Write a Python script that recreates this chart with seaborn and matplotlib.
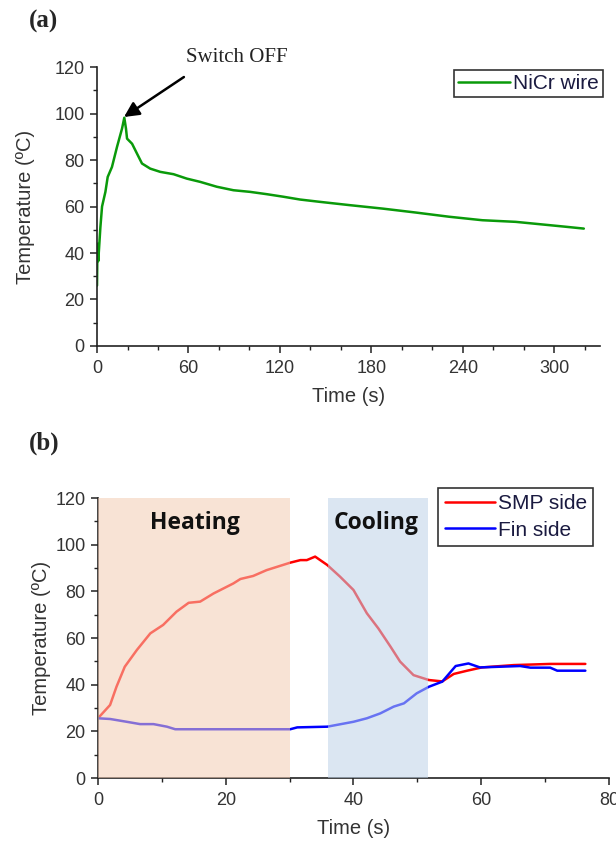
import matplotlib
matplotlib.use("Agg")
import matplotlib.pyplot as plt
from matplotlib.ticker import MultipleLocator
import seaborn as sns
import pandas as pd

# ---------------- data ----------------
# Panel (a): NiCr wire
time_a = [0, 0.3, 0.8, 2.2, 3.3, 5.5, 7.0, 9.8, 13.1, 16.4, 17.9, 19.0, 19.7, 23.0,
          26.2, 29.5, 34.9, 41.5, 50.2, 58.9, 67.7, 78.6, 89.5, 100.4, 111.4, 122.3,
          133.2, 146.3, 165.6, 187.4, 209.2, 231.0, 252.8, 274.7, 296.5, 307.4, 319.4]
temp_a = [26.0, 44.0, 36.5, 51.0, 60.0, 66.3, 72.7, 77.0, 85.6, 93.5, 98.2, 93.5, 89.2, 87.0,
          82.8, 78.5, 76.3, 74.9, 73.9, 72.0, 70.6, 68.5, 67.0, 66.3, 65.3, 64.2,
          63.0, 62.0, 60.6, 59.1, 57.4, 55.6, 54.1, 53.4, 52.0, 51.3, 50.5]

# Panel (b): SMP side and Fin side
time_smp = [0, 1.9, 2.9, 4.2, 6.1, 8.2, 10.2, 12.3, 14.2, 16.0, 18.1, 21.2, 22.3, 24.3,
            26.4, 30.1, 31.7, 32.7, 34.0, 35.9, 37.9, 40.0, 42.1, 43.9, 45.8, 47.3,
            49.4, 51.8, 53.9, 55.7, 57.8, 60.1, 65.1, 70.8, 76.3]
temp_smp = [25.6, 31.3, 39.1, 47.7, 54.9, 62.0, 65.6, 71.3, 75.1, 75.6, 79.1, 83.4, 85.3, 86.6,
            89.1, 92.3, 93.4, 93.4, 94.9, 91.3, 86.3, 80.6, 70.6, 64.1, 56.3, 49.9,
            44.1, 42.0, 41.4, 44.6, 46.0, 47.4, 48.4, 48.9, 48.9]
time_fin = [0, 1.9, 4.5, 6.6, 8.7, 10.8, 12.1, 30.1, 31.2, 35.9, 40.0, 42.1, 44.2, 46.3,
            47.9, 49.9, 51.8, 53.9, 56.0, 58.0, 59.8, 66.1, 67.7, 70.8, 71.9, 76.3]
temp_fin = [25.6, 25.3, 24.1, 23.1, 23.1, 22.0, 20.9, 20.9, 21.7, 22.0, 24.1, 25.6, 27.7, 30.6,
            32.0, 36.3, 39.1, 41.3, 48.0, 49.1, 47.4, 48.0, 47.3, 47.3, 46.0, 46.0]

heating_span = [0, 30]
cooling_span = [36, 51.7]

# ---------------- style ----------------
sns.set_style("ticks")
plt.rcParams['font.family'] = ['Liberation Sans', 'DejaVu Sans']
plt.rcParams['axes.edgecolor'] = '#222222'
plt.rcParams['xtick.color'] = '#222222'
plt.rcParams['ytick.color'] = '#222222'
plt.rcParams['xtick.labelcolor'] = '#333333'
plt.rcParams['ytick.labelcolor'] = '#333333'

fig = plt.figure(figsize=(6.16, 8.41), dpi=100)
ax1 = fig.add_axes([0.1575, 0.5886, 0.9740 - 0.1575, 0.9203 - 0.5886])
ax2 = fig.add_axes([0.1590, 0.0749, 0.9886 - 0.1590, 0.4078 - 0.0749])

def style_axis(ax):
    sns.despine(ax=ax)
    for s in ['left', 'bottom']:
        ax.spines[s].set_linewidth(1.2)
    ax.tick_params(which='major', direction='out', length=5, width=1.1, labelsize=13)
    ax.tick_params(which='minor', direction='out', length=3, width=1.0)
    ax.tick_params(axis='x', which='major', pad=5)
    ax.tick_params(axis='y', which='major', pad=4)

# ---------------- panel (a) ----------------
df_a = pd.DataFrame({'Time (s)': time_a, 'Temp': temp_a})
sns.lineplot(data=df_a, x='Time (s)', y='Temp', ax=ax1, color='#0a9a0a', lw=1.8,
             sort=False, estimator=None, label='NiCr wire')
ax1.set_xlim(0, 330)
ax1.set_ylim(0, 120)
ax1.xaxis.set_major_locator(MultipleLocator(60))
ax1.xaxis.set_minor_locator(MultipleLocator(20))
ax1.yaxis.set_major_locator(MultipleLocator(20))
ax1.yaxis.set_minor_locator(MultipleLocator(10))
style_axis(ax1)
ax1.set_xlabel('Time (s)', fontsize=14.5, color='#333333', labelpad=7)
ax1.set_ylabel('Temperature (ºC)', fontsize=14.5, color='#333333', labelpad=14)
leg1 = ax1.legend(loc='upper right', bbox_to_anchor=(1.006, 0.99), borderaxespad=0,
                  fontsize=15, frameon=True, fancybox=False, handlelength=2.5,
                  handletextpad=0.15, borderpad=0.2)
leg1.get_frame().set_edgecolor('black')
leg1.get_frame().set_linewidth(1.2)
for t in leg1.get_texts():
    t.set_color('#1a1a40')

ax1.annotate('', xy=(17.7, 98.5), xytext=(57, 115.7), annotation_clip=False,
             arrowprops=dict(arrowstyle='-|>,head_length=0.9,head_width=0.45',
                             lw=1.8, color='black', shrinkA=0, shrinkB=0))
ax1.text(58.5, 124.0, 'Switch OFF', fontsize=15, family='Liberation Serif',
         va='center', ha='left', color='#222222')

# ---------------- panel (b) ----------------
df_smp = pd.DataFrame({'Time (s)': time_smp, 'Temp': temp_smp})
df_fin = pd.DataFrame({'Time (s)': time_fin, 'Temp': temp_fin})
sns.lineplot(data=df_smp, x='Time (s)', y='Temp', ax=ax2, color='#ff0000', lw=1.8,
             sort=False, estimator=None, label='SMP side', zorder=2)
sns.lineplot(data=df_fin, x='Time (s)', y='Temp', ax=ax2, color='#0000ff', lw=1.8,
             sort=False, estimator=None, label='Fin side', zorder=2)
ax2.axvspan(heating_span[0], heating_span[1], ymin=0, ymax=1, color=(244/255, 204/255, 180/255),
            alpha=0.55, lw=0, zorder=3)
ax2.axvspan(cooling_span[0], cooling_span[1], ymin=0, ymax=1, color=(191/255, 211/255, 233/255),
            alpha=0.55, lw=0, zorder=3)
ax2.text(15.2, 109.3, 'Heating', fontsize=16.5, fontweight='bold', family='Open Sans',
         ha='center', va='center', color='#111111', zorder=4)
ax2.text(43.6, 109.3, 'Cooling', fontsize=16.5, fontweight='bold', family='Open Sans',
         ha='center', va='center', color='#111111', zorder=4)
ax2.set_xlim(0, 80)
ax2.set_ylim(0, 120)
ax2.xaxis.set_major_locator(MultipleLocator(20))
ax2.xaxis.set_minor_locator(MultipleLocator(10))
ax2.yaxis.set_major_locator(MultipleLocator(20))
ax2.yaxis.set_minor_locator(MultipleLocator(10))
style_axis(ax2)
ax2.set_xlabel('Time (s)', fontsize=14.5, color='#333333', labelpad=7)
ax2.set_ylabel('Temperature (ºC)', fontsize=14.5, color='#333333', labelpad=3)
leg2 = ax2.legend(loc='upper right', bbox_to_anchor=(0.969, 1.036), borderaxespad=0,
                  fontsize=15, frameon=True, fancybox=False, handlelength=2.4,
                  handletextpad=0.15, borderpad=0.3, labelspacing=0.35)
leg2.get_frame().set_edgecolor('black')
leg2.get_frame().set_linewidth(1.2)
leg2.set_zorder(5)
for t in leg2.get_texts():
    t.set_color('#1a1a40')

# ---------------- panel labels ----------------
fig.text(0.047, 0.975, '(a)', fontsize=18, fontweight='bold', family='Liberation Serif',
         va='center', ha='left')
fig.text(0.047, 0.473, '(b)', fontsize=18, fontweight='bold', family='Liberation Serif',
         va='center', ha='left')

fig.savefig('out.png', dpi=100)
